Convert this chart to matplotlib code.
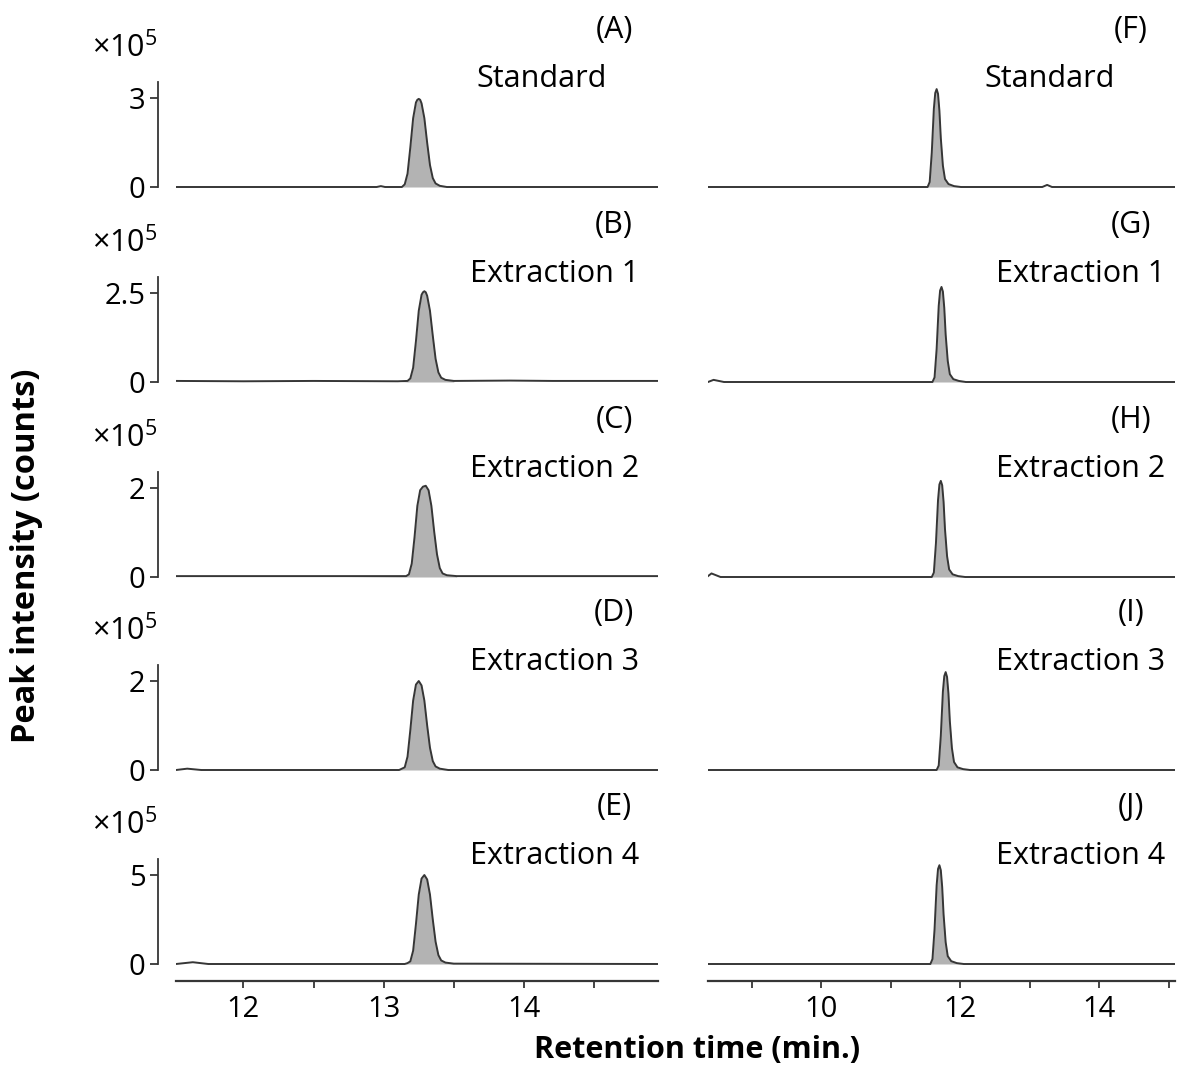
import matplotlib
matplotlib.use("Agg")
import matplotlib.pyplot as plt
from matplotlib.ticker import MultipleLocator

# --- data (intensity in units of 1e5 counts) ---
left_labels = ["(A)", "(B)", "(C)", "(D)", "(E)"]
right_labels = ["(F)", "(G)", "(H)", "(I)", "(J)"]
sample_names = ["Standard", "Extraction 1", "Extraction 2",
                "Extraction 3", "Extraction 4"]
top_ticks = [3, 2.5, 2, 2, 5]
top_tick_labels = ["3", "2.5", "2", "2", "5"]

t_a = [11.52, 12.95, 12.98, 13.01, 13.13, 13.15, 13.17, 13.19, 13.21, 13.23,
       13.24, 13.25, 13.26, 13.27, 13.29, 13.31, 13.33, 13.35, 13.37, 13.40,
       13.45, 14.955]
y_a = [0.0, 0.0, 0.03, 0.0, 0.0, 0.09, 0.45, 1.34, 2.32, 2.85,
       2.94, 2.97, 2.94, 2.82, 2.32, 1.49, 0.74, 0.30, 0.12, 0.04,
       0.0, 0.0]

t_b = [11.52, 12.00, 12.50, 13.10, 13.17, 13.19, 13.21, 13.23, 13.25, 13.27,
       13.28, 13.29, 13.30, 13.31, 13.33, 13.35, 13.37, 13.39, 13.41, 13.44,
       13.50, 13.90, 14.20, 14.955]
y_b = [0.03, 0.02, 0.03, 0.02, 0.03, 0.10, 0.40, 1.15, 2.00, 2.45,
       2.52, 2.55, 2.52, 2.42, 2.00, 1.30, 0.65, 0.27, 0.12, 0.06,
       0.03, 0.04, 0.03, 0.03]

t_c = [11.52, 12.40, 13.16, 13.18, 13.20, 13.22, 13.24, 13.26, 13.28, 13.30,
       13.32, 13.34, 13.36, 13.38, 13.40, 13.42, 13.45, 13.52, 14.955]
y_c = [0.02, 0.02, 0.02, 0.06, 0.30, 0.90, 1.60, 1.95, 2.03, 2.05,
       1.95, 1.60, 1.02, 0.51, 0.20, 0.08, 0.04, 0.02, 0.02]

t_d = [11.52, 11.60, 11.70, 13.11, 13.13, 13.15, 13.17, 13.19, 13.21, 13.23,
       13.25, 13.27, 13.29, 13.31, 13.33, 13.35, 13.37, 13.40, 13.46, 14.955]
y_d = [0.0, 0.03, 0.0, 0.0, 0.03, 0.06, 0.30, 0.90, 1.56, 1.92,
       2.00, 1.90, 1.56, 1.00, 0.50, 0.20, 0.08, 0.03, 0.0, 0.0]

t_e = [11.52, 11.64, 11.75, 13.15, 13.17, 13.19, 13.21, 13.23, 13.25, 13.27,
       13.29, 13.31, 13.33, 13.35, 13.37, 13.39, 13.41, 13.44, 13.50, 14.955]
y_e = [0.0, 0.10, 0.0, 0.0, 0.05, 0.15, 0.75, 2.25, 3.90, 4.80,
       5.00, 4.75, 3.90, 2.50, 1.25, 0.50, 0.20, 0.08, 0.02, 0.0]

t_f = [8.37, 11.53, 11.56, 11.59, 11.62, 11.64, 11.66, 11.68, 11.70, 11.72,
       11.75, 11.78, 11.83, 11.91, 12.01, 13.18, 13.25, 13.32, 15.09]
y_f = [0.0, 0.0, 0.17, 1.16, 2.64, 3.17, 3.30, 3.14, 2.57, 1.65,
       0.72, 0.27, 0.10, 0.03, 0.0, 0.0, 0.07, 0.0, 0.0]

t_g = [8.37, 8.45, 8.60, 11.60, 11.63, 11.66, 11.69, 11.71, 11.73, 11.75,
       11.77, 11.79, 11.82, 11.85, 11.90, 11.98, 12.08, 15.09]
y_g = [0.0, 0.06, 0.0, 0.0, 0.13, 0.93, 2.14, 2.57, 2.67, 2.54,
       2.08, 1.33, 0.59, 0.22, 0.08, 0.03, 0.0, 0.0]

t_h = [8.37, 8.42, 8.55, 11.59, 11.62, 11.65, 11.68, 11.70, 11.72, 11.74,
       11.76, 11.78, 11.81, 11.84, 11.89, 11.97, 12.07, 15.09]
y_h = [0.02, 0.08, 0.0, 0.0, 0.10, 0.76, 1.73, 2.08, 2.16, 2.06,
       1.69, 1.08, 0.47, 0.17, 0.06, 0.02, 0.0, 0.0]

t_i = [8.37, 11.66, 11.69, 11.72, 11.75, 11.77, 11.79, 11.81, 11.83, 11.85,
       11.88, 11.91, 11.96, 12.04, 12.14, 15.09]
y_i = [0.0, 0.0, 0.10, 0.77, 1.76, 2.11, 2.20, 2.09, 1.72, 1.10,
       0.49, 0.18, 0.06, 0.02, 0.0, 0.0]

t_j = [8.37, 11.57, 11.60, 11.63, 11.66, 11.68, 11.70, 11.72, 11.74, 11.76,
       11.79, 11.82, 11.87, 11.95, 12.05, 15.09]
y_j = [0.0, 0.0, 0.28, 1.95, 4.42, 5.34, 5.55, 5.27, 4.32, 2.78,
       1.22, 0.44, 0.16, 0.05, 0.0, 0.0]

left_traces = [(t_a, y_a), (t_b, y_b), (t_c, y_c), (t_d, y_d), (t_e, y_e)]
right_traces = [(t_f, y_f), (t_g, y_g), (t_h, y_h), (t_i, y_i), (t_j, y_j)]
# retention window of the shaded peak in each trace
left_windows = [(13.13, 13.45), (13.17, 13.50), (13.16, 13.52),
                (13.11, 13.46), (13.15, 13.50)]
right_windows = [(11.53, 12.01), (11.60, 12.08), (11.59, 12.07),
                 (11.66, 12.14), (11.57, 12.05)]

W, H = 1177, 1070
LINE = "#363636"
FILL = "#b3b3b3"
FONT = ["Open Sans", "DejaVu Sans"]
TXT = 22


def px_box(x0, x1, top, bottom):
    return [x0 / W, 1 - bottom / H, (x1 - x0) / W, (bottom - top) / H]


def draw_trace(ax, t, y, window):
    ax.plot(t, y, color=LINE, lw=1.4, solid_joinstyle="round")
    mask = [window[0] <= v <= window[1] for v in t]
    ax.fill_between(t, y, 0, where=mask, color=FILL, lw=0, interpolate=True)


def main():
    plt.rcParams['font.family'] = FONT
    plt.rcParams['mathtext.fontset'] = 'custom'
    plt.rcParams['mathtext.rm'] = 'Open Sans'
    fig = plt.figure(figsize=(W / 100, H / 100), dpi=100)

    baselines = [187, 382, 577, 770, 964]
    for i in range(5):
        b = baselines[i]
        T = top_ticks[i]
        ylim = (-3 * T / 89, 105 * T / 89)
        for side in range(2):
            if side == 0:
                ax = fig.add_axes(px_box(176, 658, b - 105, b + 3))
                t, y = left_traces[i]
                draw_trace(ax, t, y, left_windows[i])
                ax.set_xlim(11.52, 14.955)
                ax.xaxis.set_major_locator(MultipleLocator(1))
                ax.xaxis.set_minor_locator(MultipleLocator(0.5))
            else:
                ax = fig.add_axes(px_box(708, 1175, b - 105, b + 3))
                t, y = right_traces[i]
                draw_trace(ax, t, y, right_windows[i])
                ax.set_xlim(8.37, 15.09)
                ax.xaxis.set_major_locator(MultipleLocator(2))
                ax.xaxis.set_minor_locator(MultipleLocator(1))
            ax.set_ylim(*ylim)
            ax.patch.set_visible(False)
            for s in ["top", "right"]:
                ax.spines[s].set_visible(False)

            if side == 0:
                ax.spines["left"].set_position(("outward", 13))
                ax.spines["left"].set_bounds(0, ylim[1])
                ax.spines["left"].set_color(LINE)
                ax.spines["left"].set_linewidth(1.3)
                ax.set_yticks([0, T])
                ax.set_yticklabels(["0", top_tick_labels[i]])
                ax.tick_params(axis="y", length=6, width=1.3, color=LINE,
                               pad=3, labelsize=21)
            else:
                ax.spines["left"].set_visible(False)
                ax.set_yticks([])

            if i == 4:
                ax.spines["bottom"].set_position(("outward", 10))
                ax.spines["bottom"].set_color(LINE)
                ax.spines["bottom"].set_linewidth(1.6)
                ax.tick_params(axis="x", which="both", length=5, width=1.3,
                               color=LINE, labelsize=21, pad=5)
                ax.tick_params(axis="x", which="minor", labelbottom=False)
            else:
                ax.spines["bottom"].set_visible(False)
                ax.set_xticks([])
                ax.set_xticks([], minor=True)

        # panel letters and sample names
        fig.text(614 / W, 1 - (b - 157) / H, left_labels[i],
                 ha="center", va="center", fontsize=TXT)
        fig.text(1131 / W, 1 - (b - 157) / H, right_labels[i],
                 ha="center", va="center", fontsize=TXT)
        name_y = 1 - (b - 108) / H
        if i == 0:
            fig.text(542 / W, name_y, sample_names[i], ha="center",
                     va="center", fontsize=TXT)
            fig.text(1050 / W, name_y, sample_names[i], ha="center",
                     va="center", fontsize=TXT)
        else:
            fig.text(555 / W, name_y, sample_names[i], ha="center",
                     va="center", fontsize=TXT)
            fig.text(1081 / W, name_y, sample_names[i], ha="center",
                     va="center", fontsize=TXT)
        fig.text(125 / W, 1 - (b - 139) / H, r"×10$^{5}$", ha="center",
                 va="center", fontsize=TXT)

    fig.text(697 / W, 1 - 1050 / H, "Retention time (min.)", ha="center",
             va="center", fontsize=TXT, fontweight="bold")
    fig.text(27 / W, 1 - 556 / H, "Peak intensity (counts)", ha="center",
             va="center", fontsize=23.5, fontweight="bold", rotation=90)

    fig.savefig("out.png", dpi=100)


if __name__ == "__main__":
    main()
